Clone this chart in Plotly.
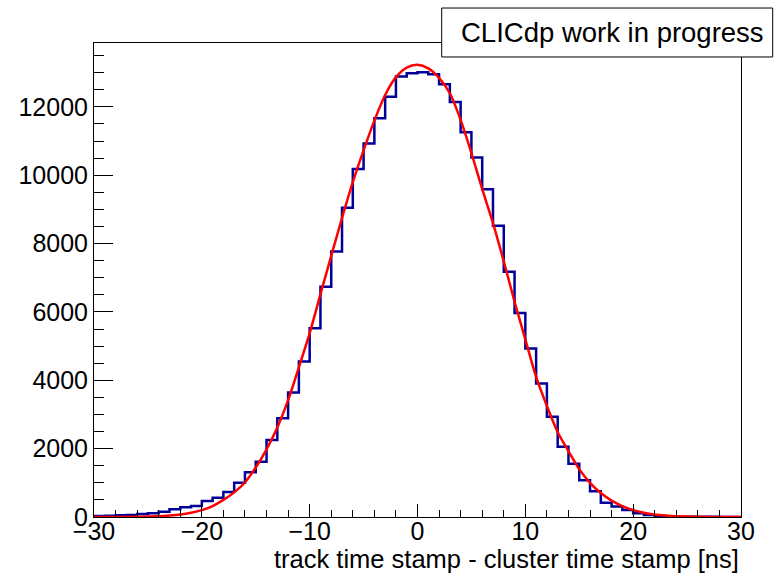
import plotly.graph_objects as go

# ---- data ----
bin_edges = list(range(-30, 31))  # 1 ns bins
counts = [30, 40, 50, 60, 90, 110, 156, 224, 283, 322,
          468, 565, 731, 1000, 1306, 1618, 2254, 2890, 3640, 4550,
          5520, 6740, 7766, 9050, 10186, 10927, 11670, 12300, 12890, 12986,
          13015, 12957, 12665, 12140, 11260, 10520, 9590, 8520, 7180, 5970,
          4930, 3910, 2936, 2058, 1560, 1075, 750, 420, 310, 205,
          108, 59, 30, 15, 10, 6, 5, 4, 3, 2]

fit_x = [-30, -28, -26, -24, -23, -22, -21, -20, -19, -18, -17, -16, -15, -14, -13,
         -12, -11, -10, -9, -8, -7, -6, -5, -4, -3, -2, -1, 0, 1, 2, 3, 4, 5, 6,
         7, 8, 9, 10, 11, 12, 13, 14, 15, 16, 17, 18, 19, 20, 21, 22, 23, 24, 26, 28, 30]
fit_y = [0, 2, 6, 25, 45, 75, 125, 200, 320, 500, 720, 1010, 1450, 1980, 2620,
         3420, 4380, 5380, 6520, 7640, 8750, 9800, 10730, 11600, 12350, 12870, 13150, 13230, 13130, 12850, 12400, 11620, 10650, 9600,
         8600, 7480, 6300, 5200, 4100, 3250, 2480, 1930, 1400, 1000, 700, 480, 320, 200, 125, 75, 45, 25, 6, 2, 0]

x_ticks = [-30, -20, -10, 0, 10, 20, 30]
y_ticks = [0, 2000, 4000, 6000, 8000, 10000, 12000]
x_title = "track time stamp - cluster time stamp [ns]"
label_text = "CLICdp work in progress"

# ---- figure ----
FONT = "Liberation Sans, Arial, sans-serif"
step_x = bin_edges
step_y = counts + [counts[-1]]

fig = go.Figure()
fig.add_trace(go.Scatter(x=step_x, y=step_y, mode="lines", line_shape="hv",
                         line=dict(color="#000099", width=2.5), hoverinfo="skip"))
fig.add_trace(go.Scatter(x=fit_x, y=fit_y, mode="lines", line_shape="spline",
                         line=dict(color="#ff0000", width=2.5, smoothing=0.8), hoverinfo="skip"))

fig.update_layout(
    width=774, height=573,
    margin=dict(l=94, r=33, t=43, b=56),
    paper_bgcolor="white", plot_bgcolor="white",
    showlegend=False,
    font=dict(family=FONT, color="black", size=25),
    xaxis=dict(range=[-30, 30], tickvals=x_ticks, ticks="inside", ticklen=13,
               tickwidth=1, tickcolor="black", showline=True, linecolor="black",
               linewidth=1, mirror=True, showgrid=False, zeroline=False,
               ticklabelstandoff=-8,
               tickfont=dict(size=25, family=FONT, color="black"),
               minor=dict(dtick=2, ticks="inside", ticklen=7, tickcolor="black",
                          tickwidth=1, showgrid=False)),
    yaxis=dict(range=[0, 13870], tickvals=y_ticks, tickformat="d", ticks="inside",
               ticklen=19, tickwidth=1, tickcolor="black", showline=True,
               linecolor="black", linewidth=1, mirror=True, showgrid=False,
               zeroline=False, tickfont=dict(size=25, family=FONT, color="black"),
               minor=dict(dtick=500, ticks="inside", ticklen=10, tickcolor="black",
                          tickwidth=1, showgrid=False)),
    shapes=[dict(type="rect", xref="paper", yref="paper",
                 x0=0.5374, x1=1.049, y0=0.9705, y1=1.0738,
                 fillcolor="white", line=dict(color="black", width=1), layer="above")],
    annotations=[
        dict(text=x_title, xref="paper", yref="paper", x=1.0, y=-0.089,
             xanchor="right", yanchor="middle", showarrow=False,
             font=dict(size=25.5, family=FONT, color="black")),
        dict(text=label_text, xref="paper", yref="paper", x=0.8012, y=1.0222,
             xanchor="center", yanchor="middle", showarrow=False,
             font=dict(size=27.5, family=FONT, color="black")),
    ],
)

fig.write_html("out.html")
